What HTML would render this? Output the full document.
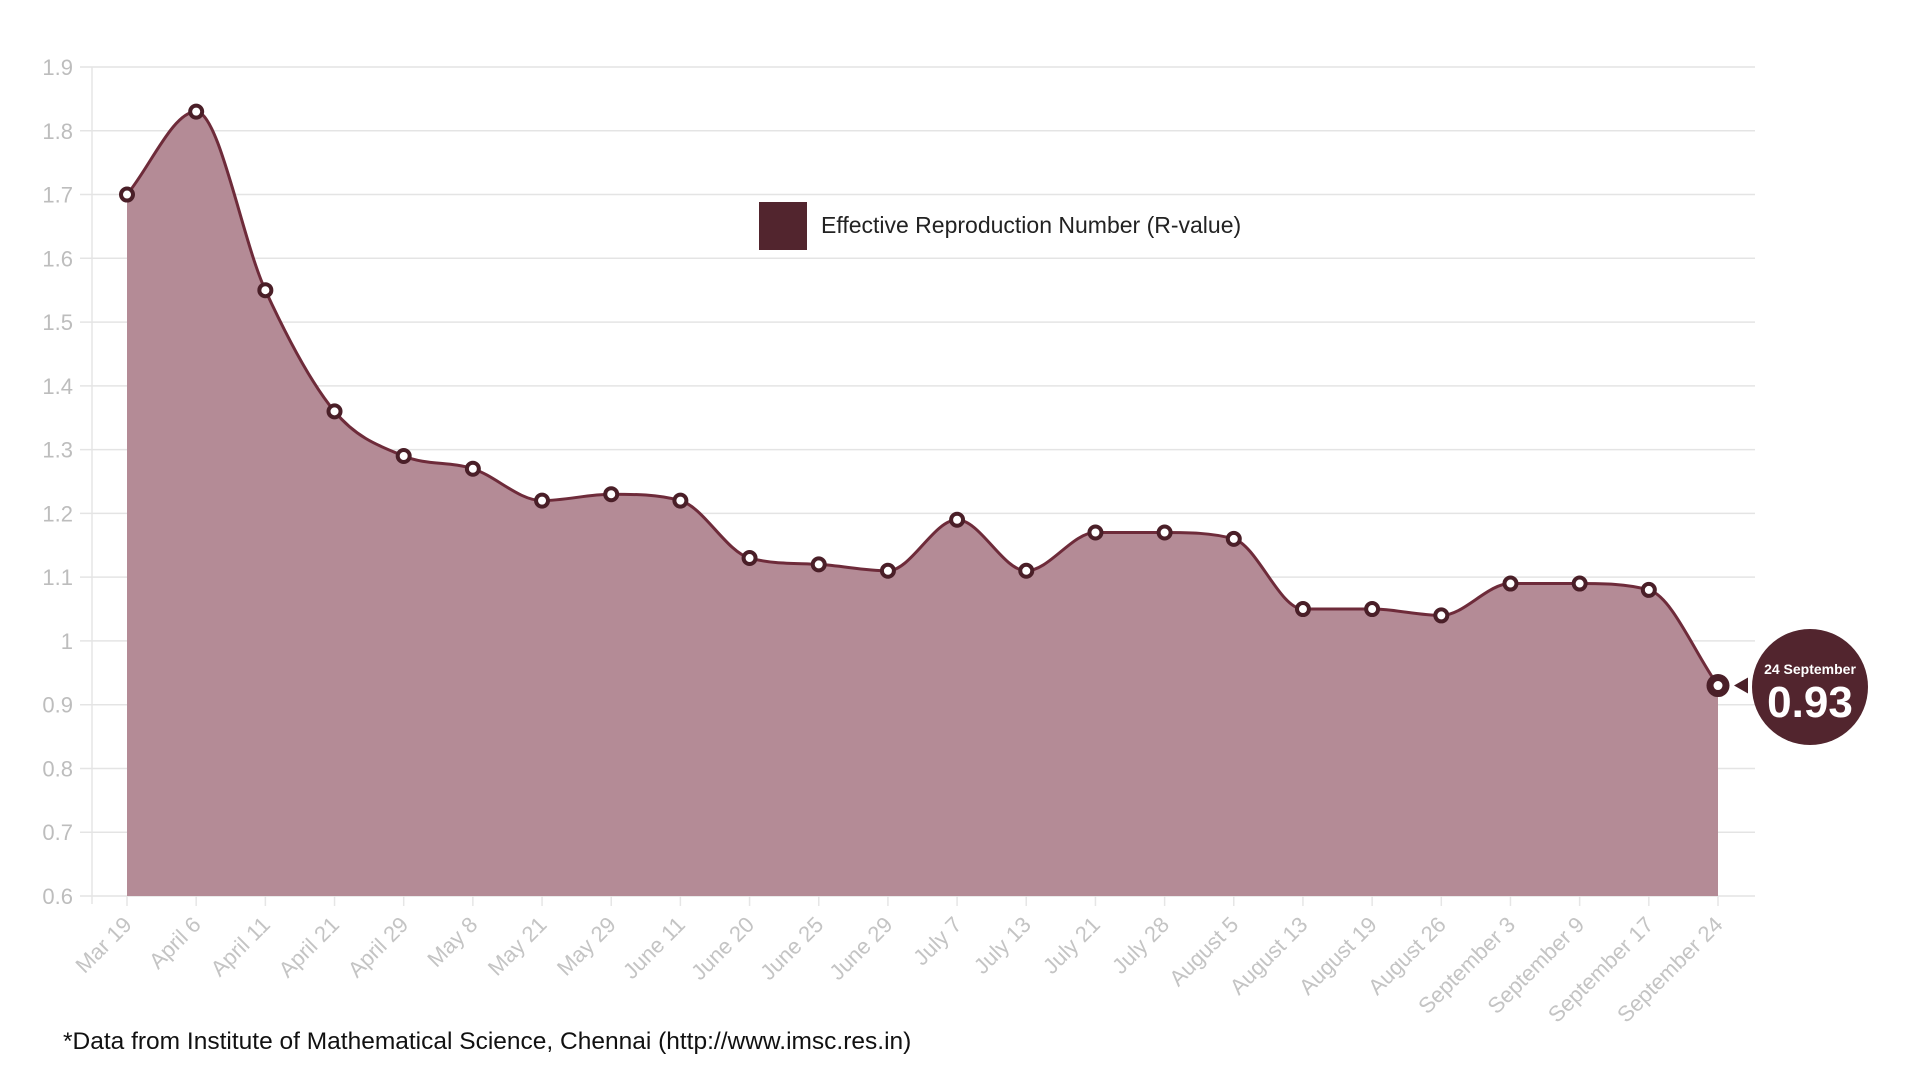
<!DOCTYPE html>
<html><head><meta charset="utf-8"><style>
body{margin:0;background:#fff;width:1920px;height:1080px;overflow:hidden;font-family:"Liberation Sans",sans-serif}
</style></head><body>
<svg id="chart" width="1920" height="1080" xmlns="http://www.w3.org/2000/svg">
<g id="grid"></g>
<g id="yaxis"></g>
<g id="xaxis"></g>
<g id="series"></g>
<g>
<rect x="759" y="202" width="48" height="48" fill="#52252e"/>
<text x="821" y="233" font-size="23" fill="#222">Effective Reproduction Number (R-value)</text>
</g>
<g id="callout"></g>
<text x="63" y="1049" font-size="24.5" fill="#111">*Data from Institute of Mathematical Science, Chennai (http://www.imsc.res.in)</text>
</svg>
<script>
const categories=["Mar 19","April 6","April 11","April 21","April 29","May 8","May 21","May 29","June 11","June 20","June 25","June 29","July 7","July 13","July 21","July 28","August 5","August 13","August 19","August 26","September 3","September 9","September 17","September 24"];
const rValues=[1.7,1.83,1.55,1.36,1.29,1.27,1.22,1.23,1.22,1.13,1.12,1.11,1.19,1.11,1.17,1.17,1.16,1.05,1.05,1.04,1.09,1.09,1.08,0.93];
const yTicks=[0.6,0.7,0.8,0.9,1,1.1,1.2,1.3,1.4,1.5,1.6,1.7,1.8,1.9];
const NS="http://www.w3.org/2000/svg";
const yMin=0.6,yMax=1.9,yTop=67,yBot=896,xL=127,xR=1718;
function yS(v){return yBot-(v-yMin)/(yMax-yMin)*(yBot-yTop);}
function xS(i){return xL+i*(xR-xL)/(categories.length-1);}
function mk(t,a,p){const e=document.createElementNS(NS,t);for(const k in a)e.setAttribute(k,a[k]);p.appendChild(e);return e;}
const grid=document.getElementById('grid'),ya=document.getElementById('yaxis'),xa=document.getElementById('xaxis'),se=document.getElementById('series');
mk('line',{x1:92,y1:yTop,x2:92,y2:yBot+8,stroke:'#e6e6e6','stroke-width':1.5},grid);
yTicks.forEach(v=>{
 const l=mk('line',{x1:80,y1:yS(v),x2:1755,y2:yS(v),stroke:'#e4e4e4','stroke-width':1.5},grid);
 
 
 const t=mk('text',{x:73,y:yS(v)+8,'text-anchor':'end','font-size':22,fill:'#bdbdbd'},ya);
 t.textContent=String(v);
 
 
});
categories.forEach((c,i)=>{
 const x=xS(i);
 mk('line',{x1:x,y1:yBot,x2:x,y2:yBot+10,stroke:'#e6e6e6','stroke-width':1.5},grid);
 const t=mk('text',{x:x+6,y:yBot+30,'text-anchor':'end','font-size':22,fill:'#c4c4c4',transform:`rotate(-45 ${x+6} ${yBot+30})`},xa);
 t.textContent=c;
 
 
});
const pts=rValues.map((v,i)=>[xS(i),yS(v)]);
const n=pts.length,d=[],m=[];
for(let i=0;i<n-1;i++)d.push((pts[i+1][1]-pts[i][1])/(pts[i+1][0]-pts[i][0]));
for(let i=0;i<n;i++){if(i==0)m.push(d[0]);else if(i==n-1)m.push(d[n-2]);else m.push(d[i-1]*d[i]<=0?0:(d[i-1]+d[i])/2);}
for(let i=0;i<n-1;i++){if(d[i]==0){m[i]=0;m[i+1]=0;continue;}const a=m[i]/d[i],b=m[i+1]/d[i],s=a*a+b*b;if(s>9){const t=3/Math.sqrt(s);m[i]=t*a*d[i];m[i+1]=t*b*d[i];}}
let path=`M${pts[0][0]},${pts[0][1]}`;
for(let i=0;i<n-1;i++){const h=(pts[i+1][0]-pts[i][0])/3;path+=` C${pts[i][0]+h},${pts[i][1]+m[i]*h} ${pts[i+1][0]-h},${pts[i+1][1]-m[i+1]*h} ${pts[i+1][0]},${pts[i+1][1]}`;}
const area=mk('path',{d:path+` L${pts[n-1][0]},${yBot} L${pts[0][0]},${yBot} Z`,fill:'#b48b96'},se);


const line=mk('path',{d:path,fill:'none',stroke:'#6e2b3a','stroke-width':3},se);


pts.forEach((p,i)=>{
 const last=i==n-1;
 const c=mk('circle',{cx:p[0],cy:p[1],r:last?8:6,fill:'#fff',stroke:'#4a1f28','stroke-width':last?7:4},se);
 
 
});
const co=document.getElementById('callout');
const lp=pts[n-1];
mk('polygon',{points:`${lp[0]+16},${lp[1]} ${lp[0]+30},${lp[1]-8} ${lp[0]+30},${lp[1]+8}`,fill:'#4a1f28'},co);
mk('circle',{cx:1810,cy:687,r:58,fill:'#52252e'},co);
const t1=mk('text',{x:1810,y:674,'text-anchor':'middle','font-size':14,'font-weight':'bold',fill:'#fff'},co);
t1.textContent=categories[n-1].split(' ')[1]+' '+categories[n-1].split(' ')[0];
const t2=mk('text',{x:1810,y:717,'text-anchor':'middle','font-size':44,'font-weight':'bold',fill:'#fff'},co);
t2.textContent=String(rValues[n-1]);
</script>
</body></html>
